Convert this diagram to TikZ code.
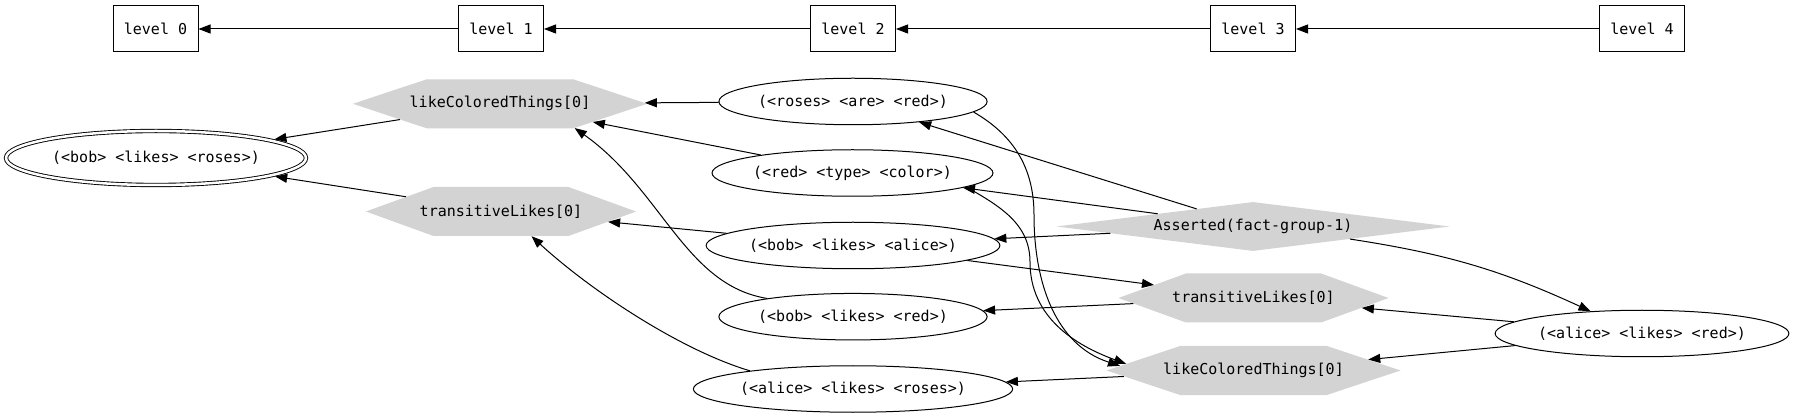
\documentclass[tikz,border=0pt]{standalone}
\usepackage{fontspec}
\setmonofont{DejaVu Sans Mono}
\usetikzlibrary{shapes.geometric,shapes.symbols,arrows.meta}
\definecolor{hexgray}{HTML}{D3D3D3}
\begin{document}
\begin{tikzpicture}[x=1pt,y=-1pt,
  every node/.style={font=\ttfamily\fontsize{15}{18}\selectfont, inner sep=0pt},
  lvl/.style={draw, line width=1pt, rectangle, minimum width=85pt, minimum height=46pt},
  fact/.style={draw, line width=1pt, ellipse, minimum height=46.5pt},
  hexa/.style={signal, signal to=west and east, fill=hexgray, minimum height=49pt},
  lcthex/.style={hexa, minimum width=294pt, signal pointer angle=36.8, inner xsep=-17pt},
  tlhex/.style={hexa, minimum width=270pt, signal pointer angle=39.9, inner xsep=-13.75pt},
  asrt/.style={diamond, aspect=8, fill=hexgray, minimum width=393pt, minimum height=49pt},
  edge/.style={line width=1pt, -{Triangle[length=12pt,width=9pt]}},
]
\useasboundingbox (0,0) rectangle (1793,419);
% levels
\node[lvl] (l0) at (155.5,29) {level 0};
\node[lvl] (l1) at (501,29) {level 1};
\node[lvl] (l2) at (853,29) {level 2};
\node[lvl] (l3) at (1253,29) {level 3};
\node[lvl] (l4) at (1642,29) {level 4};
% nodes
\node[draw, double, double distance=2.5pt, line width=0.9pt, ellipse, minimum width=300pt, minimum height=54pt, outer sep=2.6pt] (blr) at (156,158) {(<bob> <likes> <roses>)};
\node[lcthex] (lct1) at (500,103.8) {likeColoredThings[0]};
\node[tlhex] (tl1) at (501,211.5) {transitiveLikes[0]};
\node[fact, minimum width=266pt] (rar) at (853,101.5) {(<roses> <are> <red>)};
\node[fact, minimum width=279pt] (rtc) at (852.5,173) {(<red> <type> <color>)};
\node[fact, minimum width=290pt] (bla) at (853,245.5) {(<bob> <likes> <alice>)};
\node[fact, minimum width=266pt] (blred) at (853,316.7) {(<bob> <likes> <red>)};
\node[fact, minimum width=311pt] (alr) at (853,389) {(<alice> <likes> <roses>)};
\node[asrt] (asr) at (1253,226.5) {Asserted(fact-group-1)};
\node[tlhex] (tl2) at (1253.5,298) {transitiveLikes[0]};
\node[lcthex] (lct2) at (1253.5,370.5) {likeColoredThings[0]};
\node[fact, minimum width=291pt] (alred) at (1642,333.5) {(<alice> <likes> <red>)};
% level edges
\draw[edge] (l1) -- (l0);
\draw[edge] (l2) -- (l1);
\draw[edge] (l3) -- (l2);
\draw[edge] (l4) -- (l3);
% graph edges
\draw[edge] (lct1) -- (blr);
\draw[edge] (tl1) -- (blr);
\draw[edge] (rar) -- (lct1);
\draw[edge] (rtc) -- (lct1);
\draw[edge] (blred.168) .. controls (685,285) and (662,190) .. (lct1.-18);
\draw[edge] (bla) -- (tl1);
\draw[edge] (alr.170) .. controls (680,350) and (590,290) .. (tl1.-39);
\draw[edge] (asr) -- (rar);
\draw[edge] (asr) -- (rtc);
\draw[edge] (asr) -- (bla);
\draw[edge] (asr) to[bend left=8] (alred);
\draw[edge] (bla) -- (tl2);
\draw[edge] (tl2) -- (blred);
\draw[edge] (alred) -- (tl2);
\draw[edge] (alred) -- (lct2);
\draw[edge] (lct2) -- (alr);
\draw[edge] (rar.-5) to[out=-30,in=90] (1034,215) to[out=-90,in=162] (lct2.178);
\draw[edge] (rtc.-7) to[out=-30,in=90] (1030,262) to[out=-90,in=160] (lct2.177);
\end{tikzpicture}
\end{document}
